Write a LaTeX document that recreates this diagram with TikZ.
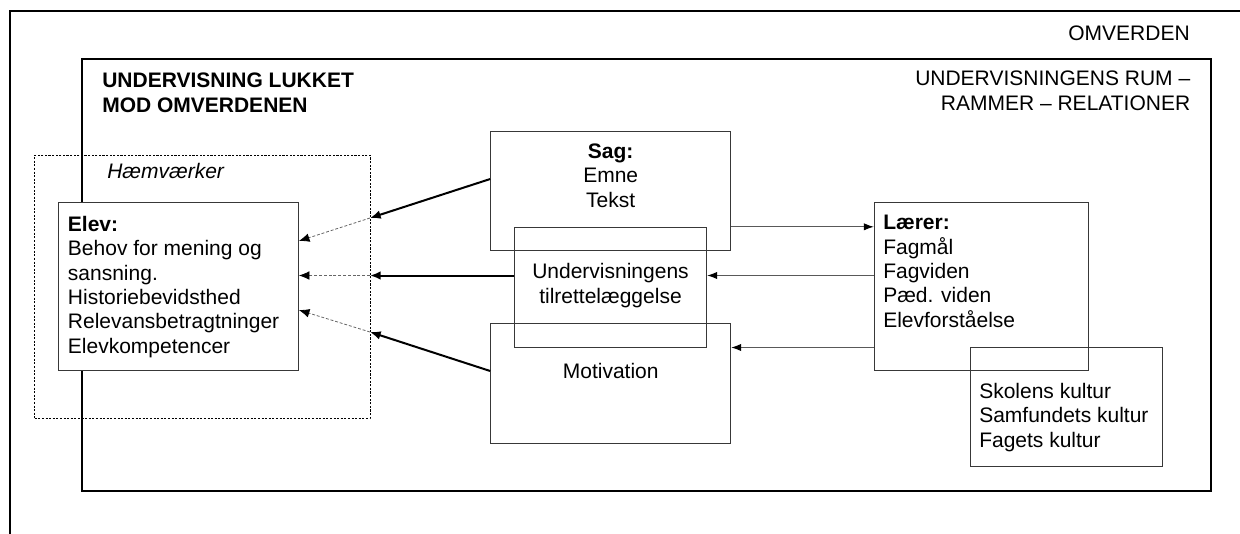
\documentclass[tikz,border=0pt]{standalone}
\usepackage{fontspec}
\setmainfont{Liberation Sans}
\usetikzlibrary{arrows.meta,fit}
\begin{document}
\begin{tikzpicture}[x=0.75pt,y=-0.75pt,
  frame/.style={draw=black, line width=1.5pt, inner sep=0pt},
  box/.style={draw=black!78, line width=0.75pt, inner sep=0pt},
  hinder/.style={draw=black, line width=0.6pt, dash pattern=on 1.6pt off 1.1pt, inner sep=0pt},
  txt/.style={inner sep=0pt, font=\fontsize{15.75}{18.25}\selectfont},
  strong/.style={draw=black, line width=1.5pt, -{Latex[length=8pt,width=6.5pt]}},
  weak/.style={draw=black!60, line width=0.6pt, dash pattern=on 2.2pt off 1.4pt, -{Latex[length=8pt,width=6.5pt,color=black]}},
  feed/.style={draw=black!65, line width=0.75pt, -{Latex[length=7.5pt,width=5.5pt,color=black]}},
]
\useasboundingbox (0,0) rectangle (1240,533);
\clip (0,0) rectangle (1240,533);

% outer frame and the closed teaching room
\node[frame, fit={(10,11) (1300,600)}] (omverden) {};
\node[frame, fit={(82,59) (1210.7,491)}] (rum) {};

% multi-line texts are anchored at the baseline of their last line
\node[txt, anchor=base east] (omv) at (1190,40.7) {OMVERDEN};
\node[txt, anchor=base west, align=left, font=\fontsize{15.75}{18.25}\selectfont\bfseries] (lukket) at (102,112)
  {UNDERVISNING LUKKET\\MOD OMVERDENEN};
\node[txt, anchor=base east, align=right] (rammer) at (1190.5,110)
  {UNDERVISNINGENS RUM –\\RAMMER – RELATIONER};

% obstacles around the pupil
\node[hinder, fit={(34.7,155) (370,418.3)}] (haem) {};
\node[txt, anchor=base west, font=\fontsize{15.75}{18.25}\selectfont\itshape] (haemtxt) at (107,178) {Hæmværker};

% boxes
\node[box, fill=white, fit={(58.3,202.3) (298.3,370.7)}] (elev) {};
\node[box, fit={(490.7,131) (730.7,250.7)}] (sag) {};
\node[box, fit={(514.3,227.3) (706.7,347)}] (und) {};
\node[box, fit={(490.7,323) (730.7,443.3)}] (mot) {};
\node[box, fit={(874.3,202.7) (1088.3,370.7)}] (laerer) {};
\node[box, fit={(970.7,347) (1162.7,466.7)}] (kultur) {};

% box texts
\node[txt, anchor=base west, align=left] (elevtxt) at (67.7,353)
  {\textbf{Elev:}\\Behov for mening og\\sansning.\\Historiebevidsthed\\Relevansbetragtninger\\Elevkompetencer};
\node[txt, anchor=base, align=center] (sagtxt) at (610.7,207) {\textbf{Sag:}\\Emne\\Tekst};
\node[txt, anchor=base, align=center] (undtxt) at (610.5,303) {Undervisningens\\tilrettelæggelse};
\node[txt, anchor=base] (mottxt) at (610.7,378) {Motivation};
\node[txt, anchor=base west, align=left] (laerertxt) at (883,327)
  {\textbf{Lærer:}\\Fagmål\\Fagviden\\Pæd. viden\\Elevforståelse};
\node[txt, anchor=base west, align=left] (kulturtxt) at (979,447)
  {Skolens kultur\\Samfundets kultur\\Fagets kultur};

% crossing points on the obstacle border
\coordinate (h1) at (370,218);
\coordinate (h2) at (370,275.5);
\coordinate (h3) at (370,332);
\coordinate (ys) at (0,179);
\coordinate (ym) at (0,371);
\coordinate (e1) at (0,241);
\coordinate (e3) at (0,310);

% influences on the pupil
\draw[strong] (sag.west |- ys) -- (h1);
\draw[weak] (h1) -- (elev.east |- e1);
\draw[strong] (und.west |- h2) -- (h2);
\draw[weak] (h2) -- (elev.east |- h2);
\draw[strong] (mot.west |- ym) -- (h3);
\draw[weak] (h3) -- (elev.east |- e3);

% teacher relations
\draw[feed] (sag.east |- und.north) -- (laerer.west |- und.north);
\draw[feed] (laerer.west |- h2) -- (und.east |- h2);
\draw[feed] (laerer.west |- und.south) -- (mot.east |- und.south);
\end{tikzpicture}
\end{document}
